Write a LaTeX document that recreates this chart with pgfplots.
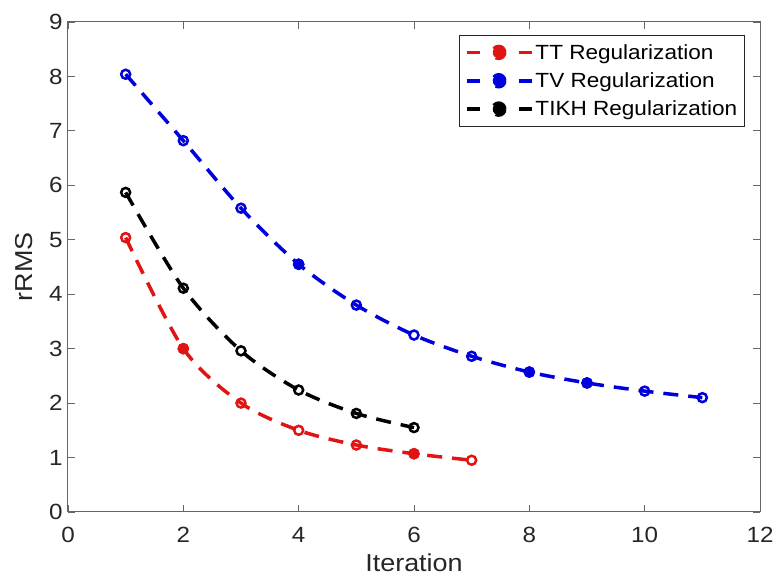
\documentclass[border=0pt]{standalone}
\usepackage{pgfplots}
\pgfplotsset{compat=1.18}
\usepackage{fontspec}
\setmainfont{Liberation Sans}[FakeStretch=1.1]
\definecolor{axgray}{gray}{0.15}
\definecolor{mred}{RGB}{225,20,20}
\definecolor{mblue}{RGB}{0,0,220}
\begin{document}
\begin{tikzpicture}
\begin{axis}[
  name=ax,
  scale only axis,
  width=692pt, height=490pt,
  xmin=0, xmax=12, ymin=0, ymax=9,
  xtick={0,2,...,12}, ytick={0,1,...,9},
  tick align=inside,
  major tick length=7pt,
  axis line style={draw=gray!80!black, line width=1pt},
  every tick/.style={gray!80!black, line width=0.8pt},
  /pgf/number format/assume math mode=true,
  ticklabel style={font=\fontsize{22}{24}\selectfont, text=axgray},
  xticklabel style={yshift=-12pt},
  yticklabel style={xshift=-2pt},
  xlabel={Iteration}, ylabel={rRMS},
  label style={font=\fontsize{24.5}{27}\selectfont, text=axgray},
  xlabel style={yshift=-4pt},
  ylabel style={yshift=9pt},
  legend style={at={(rel axis cs:0.978,0.974)}, anchor=north east,
    font=\fontsize{20.5}{23}\selectfont, draw=gray!30!black, line width=1pt,
    row sep=8pt, inner xsep=5pt, inner ysep=7pt},
  legend cell align=left,
  legend image code/.code={
    \draw[#1, solid, line width=3.5pt] (0pt,0pt) -- (13pt,0pt);
    \draw[#1, solid, line width=3.5pt] (52pt,0pt) -- (65pt,0pt);
    \fill[#1] (32pt,0pt) circle (6pt);
  },
  every axis plot/.append style={line width=3.5pt, dash pattern=on 15pt off 10pt, smooth,
    mark=o, mark size=4.5pt, mark options={solid, line width=2.5pt}},
]
\addplot[mred] coordinates {(1,5.04)(2,3.00)(3,2.00)(4,1.50)(5,1.23)(6,1.07)(7,0.95)};
\addlegendentry{TT Regularization}
\addplot[mblue] coordinates {(1,8.04)(2,6.82)(3,5.58)(4,4.55)(5,3.80)(6,3.25)(7,2.86)(8,2.57)(9,2.37)(10,2.22)(11,2.10)};
\addlegendentry{TV Regularization}
\addplot[black] coordinates {(1,5.87)(2,4.11)(3,2.96)(4,2.24)(5,1.81)(6,1.55)};
\addlegendentry{TIKH Regularization}
\addplot[mred, only marks, mark=*, forget plot] coordinates {(2,3.00)(6,1.07)};
\addplot[mblue, only marks, mark=*, forget plot] coordinates {(4,4.55)(8,2.57)(9,2.37)};
\end{axis}
\path (ax.south west) ++(-68pt,-65pt);
\path (ax.north east) ++(17pt,22pt);
\end{tikzpicture}
\end{document}
